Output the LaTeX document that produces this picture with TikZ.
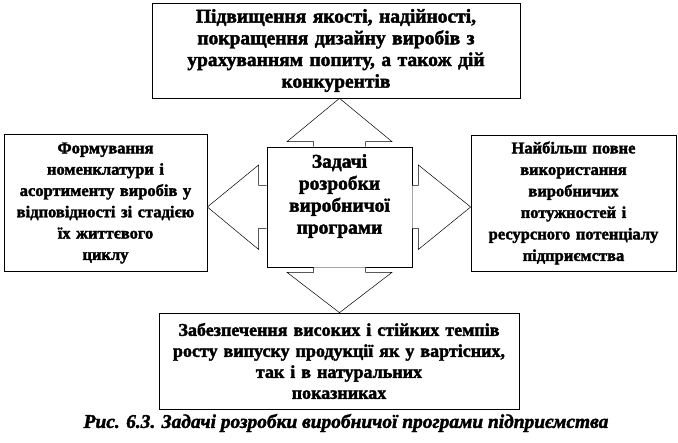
\documentclass[tikz,border=0pt]{standalone}
\usepackage{fontspec}
\setmainfont{Liberation Serif}[BoldFont={Liberation Serif Bold}, BoldItalicFont={Liberation Serif Bold Italic}, BoldFeatures={FakeBold=2}, BoldItalicFeatures={FakeBold=2}]
\usepackage{tikz}
\usetikzlibrary{calc}

\tikzset{
  taskbox/.style={draw=black, line width=0.7pt, align=center, inner sep=1pt},
  blockarrow/.style={draw=black, line width=0.5pt, fill=white}
}

\begin{document}
\begin{tikzpicture}[x=1pt, y=-1pt]
    \useasboundingbox (0,0) rectangle (678,443);

    % Central box, its text sits a little above the middle
    \node[taskbox, minimum width=145, minimum height=120] (task) at (339.5,207) {};
    \node[align=center, font=\fontsize{19.5}{22}\selectfont\bfseries] (tasktext) at ($(task.center)+(0,-11)$)
        {Задачі\\розробки\\виробничої\\програми};

    % Surrounding boxes
    \node[taskbox, minimum width=368, minimum height=95, text width=366,
          font=\fontsize{19.5}{21.7}\selectfont\bfseries] (quality) at (336,50.5)
        {Підвищення якості, надійності,\\покращення дизайну виробів з\\урахуванням попиту, а також дій\\конкурентів};
    \node[taskbox, minimum width=203, minimum height=137, text width=201,
          font=\fontsize{16.5}{21.3}\selectfont\bfseries] (nomen) at (105.5,203)
        {Формування\\номенклатури і\\асортименту виробів у\\відповідності зі стадією\\їх життєвого\\циклу};
    \node[taskbox, minimum width=205, minimum height=136, text width=203,
          font=\fontsize{16.5}{21.5}\selectfont\bfseries] (capacity) at (573.5,203)
        {Найбільш повне\\використання\\виробничих\\потужностей і\\ресурсного потенціалу\\підприємства};
    \node[taskbox, minimum width=360, minimum height=96, text width=358,
          font=\fontsize{18}{21}\selectfont\bfseries] (growth) at (339,361)
        {Забезпечення високих і стійких темпів\\росту випуску продукції як у вартісних,\\так і в натуральних\\показниках};

    % Block arrows from the central box
    \draw[blockarrow] ($(task.north)+(-26,0)$) -- ++(0,-5) -- ++(-26.5,0)
        -- (task.north |- quality.south) -- ($(task.north)+(52.5,-5)$) -- ++(-26.5,0) -- ($(task.north)+(26,0)$);
    \draw[blockarrow] ($(task.south)+(-26,0)$) -- ++(0,5) -- ++(-26.5,0)
        -- (task.south |- growth.north) -- ($(task.south)+(52.5,5)$) -- ++(-26.5,0) -- ($(task.south)+(26,0)$);
    \draw[blockarrow] ($(task.west)+(0,-21.5)$) -- ++(-8,0) -- ++(0,-20.5)
        -- (nomen.east |- task.west) -- ($(task.west)+(-8,42.5)$) -- ++(0,-21) -- ($(task.west)+(0,21.5)$);
    \draw[blockarrow] ($(task.east)+(0,-21.5)$) -- ++(6,0) -- ++(0,-20.5)
        -- (capacity.west |- task.east) -- ($(task.east)+(6,42.5)$) -- ++(0,-21) -- ($(task.east)+(0,21.5)$);

    % Caption
    \node[font=\fontsize{19.4}{20}\selectfont\bfseries\itshape] (caption) at (346,423)
        {Рис. 6.3. Задачі розробки виробничої програми підприємства};
\end{tikzpicture}
\end{document}
